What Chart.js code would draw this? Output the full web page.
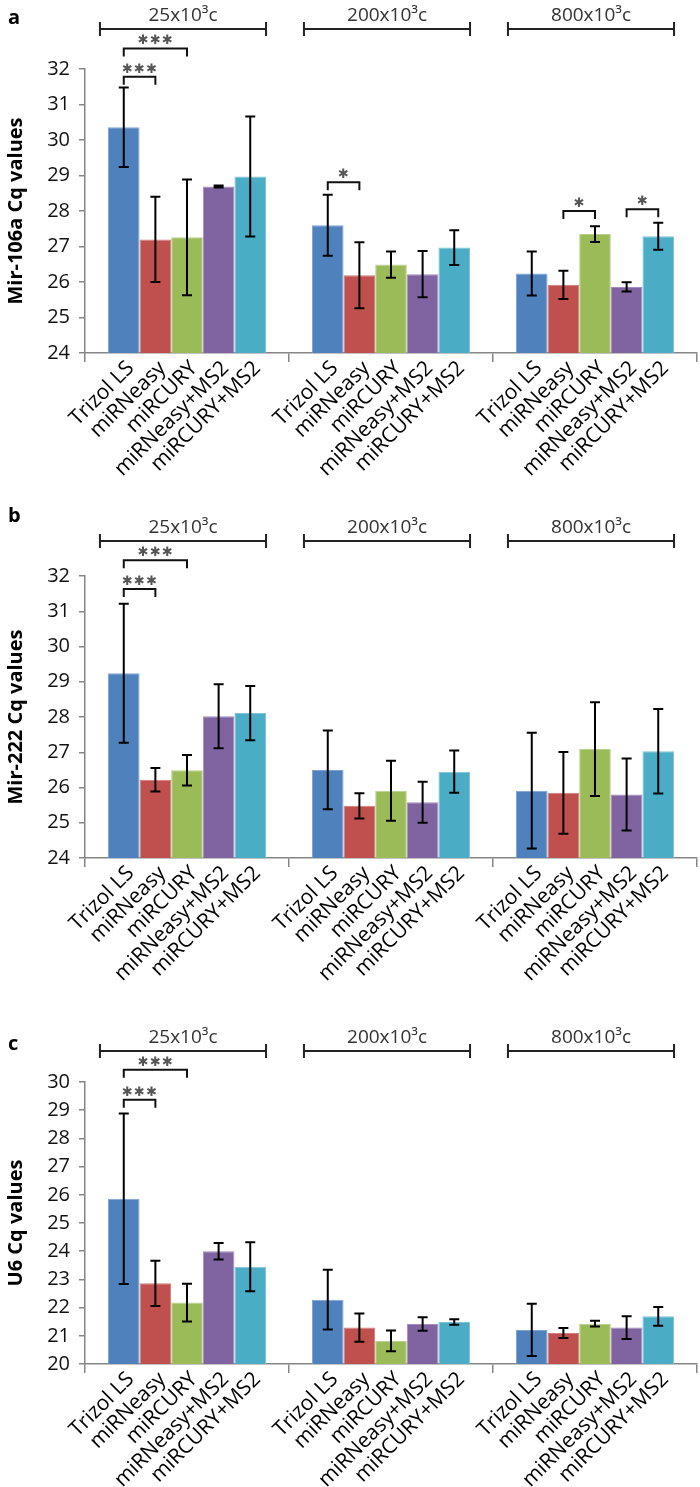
<!DOCTYPE html>
<html>
<head>
<meta charset="utf-8">
<script src="https://cdn.jsdelivr.net/npm/chart.js@4.4.1/dist/chart.umd.min.js"></script>
<style>
    body { margin: 0; background: #fff; }
    .panel { position: absolute; left: 0; width: 700px; }
</style>
</head>
<body>
<div class="panel" style="top:0"><canvas id="chartA" width="700" height="490"></canvas></div>
<div class="panel" style="top:490px"><canvas id="chartB" width="700" height="500"></canvas></div>
<div class="panel" style="top:990px"><canvas id="chartC" width="700" height="497"></canvas></div>
<script>
// methods and input amounts
const methods = ['Trizol LS', 'miRNeasy', 'miRCURY', 'miRNeasy+MS2', 'miRCURY+MS2'];
const copyGroups = ['25x10\u00B3c', '200x10\u00B3c', '800x10\u00B3c'];
const methodColors = ['#4F81BD', '#C0504D', '#9BBB59', '#8064A2', '#4BACC6'];
const methodBorders = ['#7FA3D1', '#D27C7A', '#B7D08A', '#A48CBF', '#7CC5D8'];

// Cq means, ordered group by group (5 methods each)
const mir106aMean = [30.36, 27.20, 27.26, 28.69, 28.97,  27.60, 26.19, 26.49, 26.22, 26.97,  26.24, 25.92, 27.35, 25.86, 27.29];
const mir106aSd   = [1.12, 1.20, 1.63, 0.03, 1.69,  0.86, 0.93, 0.37, 0.65, 0.49,  0.62, 0.40, 0.22, 0.13, 0.38];
const mir222Mean  = [29.24, 26.22, 26.49, 28.02, 28.11,  26.50, 25.48, 25.91, 25.58, 26.45,  25.91, 25.85, 27.09, 25.80, 27.03];
const mir222Sd    = [1.97, 0.33, 0.43, 0.91, 0.77,  1.12, 0.36, 0.85, 0.58, 0.60,  1.64, 1.16, 1.33, 1.02, 1.20];
const u6Mean      = [25.86, 22.86, 22.18, 24.00, 23.45,  22.28, 21.29, 20.82, 21.42, 21.49,  21.21, 21.10, 21.43, 21.29, 21.69];
const u6Sd        = [3.02, 0.80, 0.67, 0.29, 0.87,  1.06, 0.50, 0.37, 0.24, 0.10,  0.93, 0.18, 0.10, 0.40, 0.33];

// significance brackets: [group, fromMethod, toMethod, level, stars]
const mir106aSig = [[0, 0, 2, 32.58, '***'], [0, 0, 1, 31.78, '***'], [1, 0, 1, 28.81, '*'], [2, 1, 2, 28.00, '*'], [2, 3, 4, 28.05, '*']];
const mir222Sig  = [[0, 0, 2, 32.45, '***'], [0, 0, 1, 31.63, '***']];
const u6Sig      = [[0, 0, 2, 30.43, '***'], [0, 0, 1, 29.37, '***']];

const FONT = "'Open Sans', 'Liberation Sans', sans-serif";

const overlayPlugin = {
    id: 'overlay',
    afterDatasetsDraw(chart, args, o) {
        const ctx = chart.ctx;
        const y = chart.scales.y;
        const area = chart.chartArea;
        const bar = (g, m) => chart.getDatasetMeta(m).data[g];

        ctx.save();
        // error bars
        ctx.strokeStyle = '#000';
        ctx.lineWidth = 2;
        for (let m = 0; m < methods.length; m++) {
            for (let g = 0; g < copyGroups.length; g++) {
                const k = g * methods.length + m;
                const b = bar(g, m);
                const hi = y.getPixelForValue(o.mean[k] + o.sd[k]);
                const lo = y.getPixelForValue(o.mean[k] - o.sd[k]);
                ctx.beginPath();
                ctx.moveTo(b.x, hi); ctx.lineTo(b.x, lo);
                ctx.moveTo(b.x - 5, hi); ctx.lineTo(b.x + 5, hi);
                ctx.moveTo(b.x - 5, lo); ctx.lineTo(b.x + 5, lo);
                ctx.stroke();
            }
        }

        // rotated method labels
        ctx.fillStyle = '#000';
        ctx.font = '21px ' + FONT;
        ctx.textAlign = 'right';
        ctx.textBaseline = 'middle';
        for (let g = 0; g < copyGroups.length; g++) {
            for (let m = 0; m < methods.length; m++) {
                const b = bar(g, m);
                ctx.save();
                ctx.translate(b.x + 7, area.bottom + 12);
                ctx.rotate(-Math.PI / 4);
                ctx.fillText(methods[m], 0, 0);
                ctx.restore();
            }
        }

        // group headers
        ctx.lineWidth = 2;
        ctx.strokeStyle = '#222';
        ctx.textAlign = 'center';
        ctx.textBaseline = 'alphabetic';
        ctx.font = '19px ' + FONT;
        ctx.fillStyle = '#333';
        const hy = y.getPixelForValue(o.headerLevel);
        for (let g = 0; g < copyGroups.length; g++) {
            const first = bar(g, 0), last = bar(g, methods.length - 1);
            const x0 = first.x - first.width / 2 - 8;
            const x1 = last.x + last.width / 2;
            ctx.beginPath();
            ctx.moveTo(x0, hy); ctx.lineTo(x1, hy);
            ctx.moveTo(x0, hy - 7); ctx.lineTo(x0, hy + 7);
            ctx.moveTo(x1, hy - 7); ctx.lineTo(x1, hy + 7);
            ctx.stroke();
            ctx.fillText(copyGroups[g], (x0 + x1) / 2, hy - 8);
        }

        // significance brackets
        ctx.strokeStyle = '#111';
        ctx.font = "13px 'DejaVu Sans', sans-serif";
        ctx.fillStyle = '#555';
        o.sig.forEach(([g, a, c, lvl, stars]) => {
            const xa = bar(g, a).x, xc = bar(g, c).x;
            const ly = y.getPixelForValue(lvl);
            ctx.beginPath();
            ctx.moveTo(xa, ly + 8); ctx.lineTo(xa, ly); ctx.lineTo(xc, ly); ctx.lineTo(xc, ly + 8);
            ctx.stroke();
            ctx.fillText(stars.replace(/\*/g, '\u2731').split('').join('\u200A'), (xa + xc) / 2, ly - 4);
        });

        // panel letter
        ctx.font = 'bold 20px ' + FONT;
        ctx.fillStyle = '#000';
        ctx.textAlign = 'left';
        ctx.fillText(o.letter, 8, o.letterY);
        ctx.restore();
    }
};

function makePanel(canvasId, letter, letterY, title, mean, sd, sig, yMin, yMax, top, bottomSpace, headerLevel) {
    const datasets = methods.map((name, m) => ({
        label: name,
        data: copyGroups.map((_, g) => mean[g * methods.length + m]),
        backgroundColor: methodColors[m],
        borderColor: methodBorders[m],
        borderWidth: 1,
        categoryPercentage: 0.775,
        barPercentage: 1.0
    }));

    return new Chart(document.getElementById(canvasId), {
        type: 'bar',
        data: { labels: copyGroups, datasets },
        plugins: [overlayPlugin],
        options: {
            responsive: false,
            animation: false,
            layout: { padding: { top: top, right: 3, left: 0, bottom: 0 } },
            plugins: {
                legend: { display: false },
                tooltip: { enabled: false },
                overlay: { mean, sd, sig, letter, letterY, headerLevel }
            },
            scales: {
                x: {
                    offset: true,
                    grid: { offset: true, drawOnChartArea: false, tickLength: 9, color: '#868686', lineWidth: 1.5 },
                    border: { color: '#868686', width: 1.5 },
                    ticks: { display: false },
                    afterFit: (s) => { s.height = bottomSpace; }
                },
                y: {
                    min: yMin,
                    max: yMax,
                    grid: { drawOnChartArea: false, tickLength: 6, color: '#868686', lineWidth: 1.5 },
                    border: { color: '#868686', width: 1.5 },
                    ticks: { stepSize: 1, color: '#111', font: { family: FONT, size: 20 }, padding: 9 },
                    title: { display: true, text: title, color: '#000', font: { family: FONT, size: 20, weight: 'bold' }, padding: { top: 4, bottom: 0 } },
                    afterFit: (s) => { s.width = 85; }
                }
            }
        }
    });
}

makePanel('chartA', 'a', 24, 'Mir-106a Cq values', mir106aMean, mir106aSd, mir106aSig, 24, 32, 69, 137, 33.13);
makePanel('chartB', 'b', 32, 'Mir-222 Cq values', mir222Mean, mir222Sd, mir222Sig, 24, 32, 86, 132, 32.99);
makePanel('chartC', 'c', 60, 'U6 Cq values', u6Mean, u6Sd, u6Sig, 20, 30, 92, 123, 31.10);
</script>
</body>
</html>
